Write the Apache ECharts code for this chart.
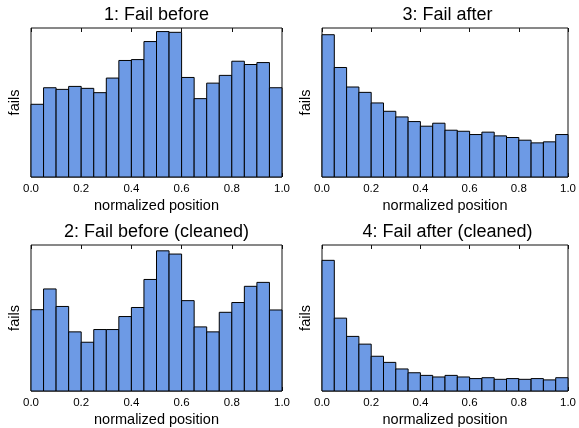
<!DOCTYPE html>
<html>
<head>
<meta charset="utf-8">
<script src="https://cdn.jsdelivr.net/npm/echarts@6/dist/echarts.min.js"></script>
<style>
  html, body { margin: 0; padding: 0; background: #fff; }
  #chart { width: 579px; height: 428px; }
</style>
</head>
<body>
<div id="chart"></div>
<script>
// Histogram bin edges (20 equal bins over the normalized position range)
const binEdges = [0.00, 0.05, 0.10, 0.15, 0.20, 0.25, 0.30, 0.35, 0.40, 0.45, 0.50,
                  0.55, 0.60, 0.65, 0.70, 0.75, 0.80, 0.85, 0.90, 0.95, 1.00];
const xTicks = [0.0, 0.2, 0.4, 0.6, 0.8, 1.0];

// Failure counts per bin (relative scale, axis top = 100)
const failBefore = [48.8, 59.9, 58.8, 60.8, 59.5, 56.6, 66.4, 78.2, 78.8, 90.9,
                    97.6, 97.1, 66.8, 52.6, 63.0, 68.2, 77.7, 75.5, 76.8, 59.9];
const failBeforeCleaned = [55.7, 69.9, 57.9, 40.5, 33.4, 42.1, 42.1, 51.0, 57.2, 76.4,
                           96.0, 93.8, 61.9, 43.9, 40.5, 53.9, 60.6, 71.7, 74.4, 55.5];
const failAfter = [95.5, 73.5, 60.4, 56.8, 49.7, 44.1, 40.3, 37.2, 34.1, 36.1,
                   31.4, 30.7, 28.5, 30.1, 27.6, 26.5, 24.7, 22.9, 23.6, 28.5];
const failAfterCleaned = [89.5, 49.9, 37.4, 32.1, 23.8, 19.6, 15.1, 12.5, 10.7, 9.6,
                          10.7, 9.6, 8.5, 9.1, 8.0, 8.5, 8.0, 8.5, 7.6, 9.1];

const panels = [
  { title: '1: Fail before',           values: failBefore,        left: 31,  top: 28 },
  { title: '3: Fail after',            values: failAfter,         left: 322, top: 28 },
  { title: '2: Fail before (cleaned)', values: failBeforeCleaned, left: 31,  top: 245 },
  { title: '4: Fail after (cleaned)',  values: failAfterCleaned,  left: 322, top: 245 }
];
const plotW = 251, plotH = 149;
const fontFamily = '"Liberation Sans", Arial, sans-serif';

const grid = [], xAxis = [], yAxis = [], series = [], title = [];

panels.forEach((p, i) => {
  grid.push({
    left: p.left, top: p.top, width: plotW, height: plotH,
    show: true, borderColor: '#111', borderWidth: 1, backgroundColor: 'transparent'
  });
  title.push({
    text: p.title,
    left: p.left + plotW / 2,
    top: p.top - 22,
    padding: 0,
    textAlign: 'center',
    textStyle: { fontFamily, fontSize: 18, fontWeight: 'normal', color: '#000' }
  });
  // bottom axis with labels
  xAxis.push({
    gridIndex: i, type: 'value', min: 0, max: 1, interval: 0.2, position: 'bottom',
    axisLine: { show: false },
    axisTick: { show: true, inside: true, length: 4, lineStyle: { color: '#111' } },
    splitLine: { show: false },
    axisLabel: {
      show: true, margin: 6, color: '#000', fontFamily, fontSize: 11.5,
      showMinLabel: true, showMaxLabel: true,
      formatter: v => xTicks.includes(Math.round(v * 10) / 10) ? v.toFixed(1) : ''
    },
    name: 'normalized position', nameLocation: 'middle', nameGap: 21,
    nameTextStyle: { fontFamily, fontSize: 14.5, color: '#000' }
  });
  // top axis: inward ticks only
  xAxis.push({
    gridIndex: i, type: 'value', min: 0, max: 1, interval: 0.2, position: 'top',
    axisLine: { show: false },
    axisTick: { show: true, inside: true, length: 4, lineStyle: { color: '#111' } },
    splitLine: { show: false },
    axisLabel: { show: false }
  });
  yAxis.push({
    gridIndex: i, type: 'value', min: 0, max: 100,
    axisLine: { show: false }, axisTick: { show: false },
    axisLabel: { show: false }, splitLine: { show: false },
    name: 'fails', nameLocation: 'middle', nameGap: 9, nameRotate: 90,
    nameTextStyle: { fontFamily, fontSize: 14.5, color: '#000' }
  });
  series.push({
    type: 'custom',
    xAxisIndex: i * 2, yAxisIndex: i,
    encode: { x: [0, 1], y: 2 },
    data: p.values.map((v, k) => [binEdges[k], binEdges[k + 1], v]),
    renderItem: (params, api) => {
      const p0 = api.coord([api.value(0), api.value(2)]);
      const p1 = api.coord([api.value(1), 0]);
      return {
        type: 'rect',
        shape: { x: p0[0], y: p0[1], width: p1[0] - p0[0], height: p1[1] - p0[1] },
        style: { fill: '#6d9ae5', stroke: '#000', lineWidth: 1 }
      };
    },
    z: 1
  });
});

const chart = echarts.init(document.getElementById('chart'), null, { renderer: 'canvas' });
chart.setOption({
  animation: false,
  backgroundColor: '#fff',
  title, grid, xAxis, yAxis, series
});
</script>
</body>
</html>
